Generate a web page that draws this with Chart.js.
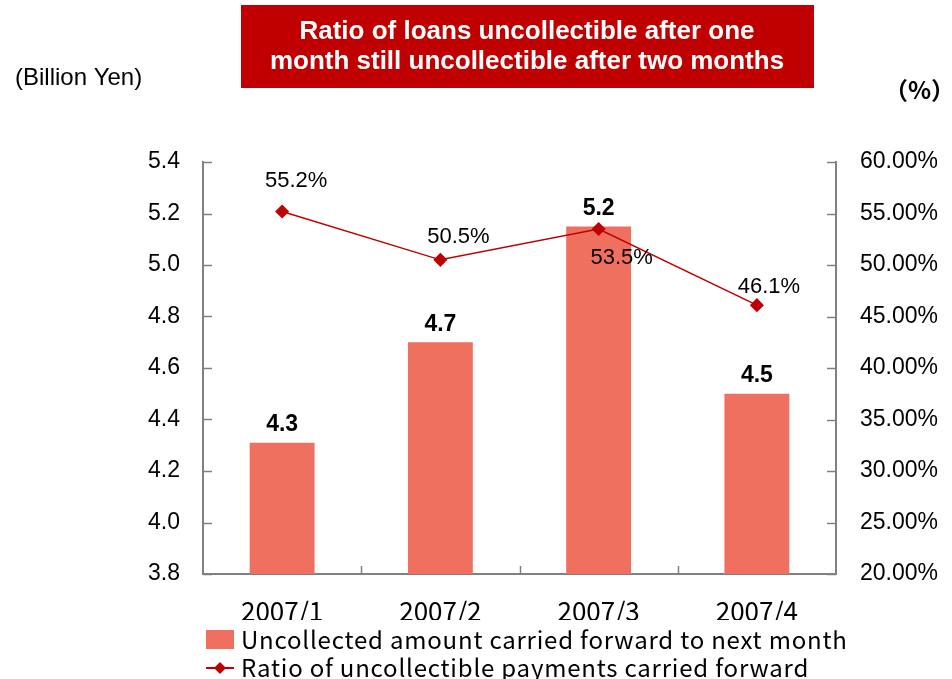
<!DOCTYPE html>
<html>
<head>
<meta charset="utf-8">
<script src="https://cdn.jsdelivr.net/npm/chart.js@4/dist/chart.umd.min.js"></script>
<style>
html, body { margin: 0; padding: 0; background: #fff; }
canvas { display: block; }
</style>
</head>
<body>
<canvas id="myChart" width="952" height="679"></canvas>
<script>
// monthly figures
const months = ['2007/1', '2007/2', '2007/3', '2007/4'];
const uncollected = [4.31, 4.70, 5.15, 4.50];   // billion yen
const ratio = [55.2, 50.5, 53.5, 46.1];          // percent

// axis ranges [min, max, step]
const amountAxis = [3.8, 5.4, 0.2];
const ratioAxis = [20, 60, 5];

const seriesNames = [
    'Uncollected amount carried forward to next month',
    'Ratio of uncollectible payments carried forward'
];
const titleLines = [
    'Ratio of loans uncollectible after one',
    'month still uncollectible after two months'
];

const barColor = '#F0705F';
const lineColor = '#C00000';
const axisColor = '#808080';
const sans = '"Liberation Sans", Arial, sans-serif';
const gothic = '"Noto Sans CJK JP", "Liberation Sans", sans-serif';

// where each ratio label sits relative to its point
const ratioLabelOffsets = [[14, -31], [18, -23], [23, 29], [12, -18]];

function line(ctx, x1, y1, x2, y2) {
    ctx.beginPath();
    ctx.moveTo(x1, y1);
    ctx.lineTo(x2, y2);
    ctx.stroke();
}

function diamond(ctx, x, y, r) {
    ctx.beginPath();
    ctx.moveTo(x, y - r);
    ctx.lineTo(x + r, y);
    ctx.lineTo(x, y + r);
    ctx.lineTo(x - r, y);
    ctx.closePath();
    ctx.fill();
}

const decorations = {
    id: 'decorations',
    afterDraw(chart) {
        const ctx = chart.ctx;
        const area = chart.chartArea;
        const yL = chart.scales.y;
        const yR = chart.scales.y1;
        const x = chart.scales.x;
        ctx.save();

        // inward tick marks
        ctx.strokeStyle = axisColor;
        ctx.lineWidth = 1.5;
        yL.ticks.forEach((t, i) => {
            const py = Math.round(yL.getPixelForTick(i)) + 0.5;
            line(ctx, area.left, py, area.left + 9, py);
        });
        yR.ticks.forEach((t, i) => {
            const py = Math.round(yR.getPixelForTick(i)) + 0.5;
            line(ctx, area.right, py, area.right - 9, py);
        });
        for (let i = 1; i < months.length; i++) {
            const px = Math.round((x.getPixelForTick(i - 1) + x.getPixelForTick(i)) / 2) + 0.5;
            line(ctx, px, area.bottom, px, area.bottom - 8);
        }

        // values above the bars
        ctx.fillStyle = '#000';
        ctx.textAlign = 'center';
        ctx.textBaseline = 'middle';
        ctx.font = 'bold 23px ' + sans;
        chart.getDatasetMeta(0).data.forEach((bar, i) => {
            ctx.fillText(uncollected[i].toFixed(1), bar.x, bar.y - 18);
        });

        // ratio labels
        ctx.font = '22px ' + sans;
        chart.getDatasetMeta(1).data.forEach((pt, i) => {
            const o = ratioLabelOffsets[i];
            ctx.fillText(ratio[i].toFixed(1) + '%', pt.x + o[0], pt.y + o[1]);
        });

        // legend (covers the lower part of the month labels)
        ctx.fillStyle = '#fff';
        ctx.fillRect(190, 620, 700, 59);
        ctx.fillStyle = barColor;
        ctx.fillRect(206, 630, 28, 19);
        ctx.strokeStyle = lineColor;
        ctx.lineWidth = 2;
        line(ctx, 206, 668, 234, 668);
        ctx.fillStyle = lineColor;
        diamond(ctx, 220, 668, 6);
        ctx.fillStyle = '#000';
        ctx.textAlign = 'left';
        ctx.font = '24px ' + gothic;
        ctx.letterSpacing = '0.8px';
        ctx.fillText(seriesNames[0], 241, 640);
        ctx.fillText(seriesNames[1], 241, 668);
        ctx.letterSpacing = '0px';

        // title box
        ctx.fillStyle = lineColor;
        ctx.fillRect(241, 5, 573, 83);
        ctx.fillStyle = '#fff';
        ctx.textAlign = 'center';
        ctx.font = 'bold 26px ' + sans;
        ctx.fillText(titleLines[0], 527, 32);
        ctx.fillText(titleLines[1], 527, 62);

        // unit captions
        ctx.fillStyle = '#000';
        ctx.textAlign = 'left';
        ctx.font = '24px ' + sans;
        ctx.fillText('(Billion Yen)', 15, 78);
        ctx.font = 'bold 24px ' + gothic;
        ctx.fillText('（%）', 884, 90);

        ctx.restore();
    }
};

const chartData = {
    type: 'bar',
    data: {
        labels: months,
        datasets: [
            {
                type: 'bar',
                label: seriesNames[0],
                data: uncollected,
                backgroundColor: barColor,
                yAxisID: 'y',
                categoryPercentage: 1,
                barPercentage: 0.41,
                order: 2
            },
            {
                type: 'line',
                label: seriesNames[1],
                data: ratio,
                borderColor: lineColor,
                backgroundColor: lineColor,
                borderWidth: 1.5,
                pointStyle: 'rectRot',
                pointRadius: 6,
                pointHoverRadius: 6,
                yAxisID: 'y1',
                order: 1
            }
        ]
    },
    options: {
        responsive: false,
        animation: false,
        layout: { padding: { top: 162, left: 0, right: 0, bottom: 0 } },
        plugins: {
            legend: { display: false },
            tooltip: { enabled: false }
        },
        scales: {
            x: {
                grid: { display: false },
                border: { color: axisColor, width: 2 },
                ticks: {
                    color: '#000',
                    padding: 14,
                    font: { family: gothic, size: 26 }
                },
                afterFit(scale) { scale.height = 105; }
            },
            y: {
                position: 'left',
                min: amountAxis[0],
                max: amountAxis[1],
                grid: { display: false },
                border: { color: axisColor, width: 2 },
                ticks: {
                    stepSize: amountAxis[2],
                    color: '#000',
                    padding: 15,
                    font: { family: sans, size: 23 },
                    callback: v => v.toFixed(1)
                },
                afterFit(scale) { scale.width = 203; }
            },
            y1: {
                position: 'right',
                min: ratioAxis[0],
                max: ratioAxis[1],
                grid: { display: false },
                border: { color: axisColor, width: 2 },
                ticks: {
                    stepSize: ratioAxis[2],
                    color: '#000',
                    padding: 16,
                    font: { family: sans, size: 23 },
                    callback: v => v.toFixed(2) + '%'
                },
                afterFit(scale) { scale.width = 116; }
            }
        }
    },
    plugins: [decorations]
};

const ctx = document.getElementById('myChart');
new Chart(ctx, chartData);
</script>
</body>
</html>
